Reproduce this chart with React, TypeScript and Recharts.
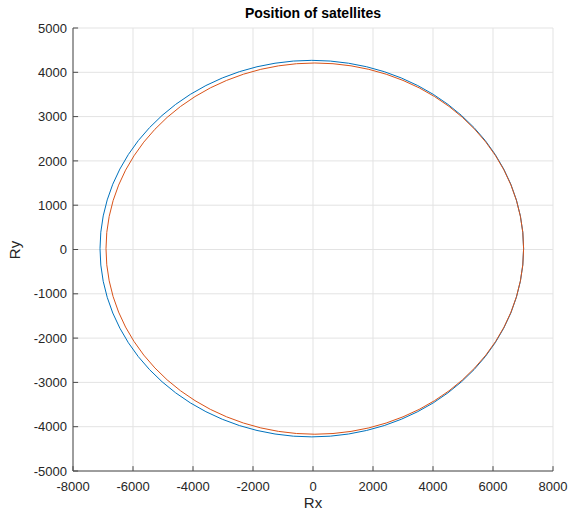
import React from 'react';
import { ScatterChart, Scatter, XAxis, YAxis, CartesianGrid, ReferenceLine } from 'recharts';

// Satellite 1 (blue) orbit points
const sat1X = [7020, 6993, 6913, 6779, 6594, 6358, 6074, 5744, 5368, 4952, 4498, 4010, 3490, 2944, 2375, 1787, 1186, 576, -40,
  -656, -1266, -1867, -2455, -3024, -3570, -4090, -4578, -5032, -5448, -5824, -6154, -6438, -6674, -6859, -6993, -7073, -7100,
  -7073, -6993, -6859, -6674, -6438, -6154, -5824, -5448, -5032, -4578, -4090, -3570, -3024, -2455, -1867, -1266, -656, -40,
  576, 1186, 1787, 2375, 2944, 3490, 4010, 4498, 4952, 5368, 5744, 6074, 6358, 6594, 6779, 6913, 6993, 7020];
const sat1Y = [20, 391, 758, 1120, 1474, 1816, 2145, 2458, 2752, 3025, 3276, 3502, 3701, 3872, 4014, 4125, 4205, 4254, 4270,
  4254, 4205, 4125, 4014, 3872, 3701, 3502, 3276, 3025, 2752, 2458, 2145, 1816, 1474, 1120, 758, 391, 20,
  -351, -718, -1080, -1434, -1776, -2105, -2418, -2712, -2985, -3236, -3462, -3661, -3832, -3974, -4085, -4165, -4214, -4230,
  -4214, -4165, -4085, -3974, -3832, -3661, -3462, -3236, -2985, -2712, -2418, -2105, -1776, -1434, -1080, -718, -351, 20];

// Satellite 2 (orange) orbit points
const sat2X = [7020, 6994, 6914, 6783, 6600, 6368, 6087, 5762, 5391, 4981, 4534, 4052, 3540, 3001, 2440, 1861, 1268, 667, 60,
  -547, -1148, -1741, -2320, -2881, -3420, -3932, -4414, -4861, -5271, -5642, -5967, -6248, -6480, -6663, -6794, -6874, -6900,
  -6874, -6794, -6663, -6480, -6248, -5967, -5642, -5271, -4861, -4414, -3932, -3420, -2881, -2320, -1741, -1148, -547, 60,
  667, 1268, 1861, 2440, 3001, 3540, 4052, 4534, 4981, 5391, 5762, 6087, 6368, 6600, 6783, 6914, 6994, 7020];
const sat2Y = [20, 385, 747, 1104, 1453, 1791, 2115, 2423, 2713, 2983, 3230, 3452, 3649, 3817, 3957, 4067, 4146, 4194, 4210,
  4194, 4146, 4067, 3957, 3817, 3649, 3452, 3230, 2983, 2713, 2423, 2115, 1791, 1453, 1104, 747, 385, 20,
  -345, -707, -1064, -1413, -1751, -2075, -2383, -2673, -2943, -3190, -3412, -3609, -3777, -3917, -4027, -4106, -4154, -4170,
  -4154, -4106, -4027, -3917, -3777, -3609, -3412, -3190, -2943, -2673, -2383, -2075, -1751, -1413, -1064, -707, -345, 20];

const xTicks = [-8000, -6000, -4000, -2000, 0, 2000, 4000, 6000, 8000];
const yTicks = [-5000, -4000, -3000, -2000, -1000, 0, 1000, 2000, 3000, 4000, 5000];

const sat1 = sat1X.map((x, i) => ({ x, y: sat1Y[i] }));
const sat2 = sat2X.map((x, i) => ({ x, y: sat2Y[i] }));

const AXIS = '#4a4a4a';
const TXT = '#262626';
const FONT = '"Liberation Sans", Arial, Helvetica, sans-serif';

const NoDot = () => <g />;

export default function App() {
  return (
    <div style={{ position: 'absolute', left: 0, top: 0, width: 569, height: 515, background: '#fff', fontFamily: FONT }}>
      <ScatterChart width={569} height={515} margin={{ top: 28, right: 16, bottom: 14, left: 13 }}>
        <CartesianGrid stroke="#e3e3e3" strokeWidth={1} />
        <XAxis
          type="number"
          dataKey="x"
          domain={[-8000, 8000]}
          ticks={xTicks}
          height={30}
          stroke={AXIS}
          tickLine={false}
          tickSize={0}
          tickMargin={11}
          tick={{ fill: TXT, fontSize: 13, fontFamily: FONT }}
          allowDataOverflow
        />
        <YAxis
          type="number"
          dataKey="y"
          domain={[-5000, 5000]}
          ticks={yTicks}
          width={60}
          stroke={AXIS}
          tickLine={false}
          tickSize={0}
          tickMargin={6}
          tick={{ fill: TXT, fontSize: 13, fontFamily: FONT }}
          allowDataOverflow
        />
        {xTicks.map((t) => (
          <ReferenceLine key={'xt' + t} segment={[{ x: t, y: -5000 }, { x: t, y: -4890 }]} stroke={AXIS} strokeWidth={1} />
        ))}
        {yTicks.map((t) => (
          <ReferenceLine key={'yt' + t} segment={[{ x: -8000, y: t }, { x: -7830, y: t }]} stroke={AXIS} strokeWidth={1} />
        ))}
        <Scatter data={sat1} line={{ stroke: '#0072BD', strokeWidth: 1 }} lineType="joint" shape={NoDot} fill="#0072BD" isAnimationActive={false} />
        <Scatter data={sat2} line={{ stroke: '#D95319', strokeWidth: 1 }} lineType="joint" shape={NoDot} fill="#D95319" isAnimationActive={false} />
      </ScatterChart>
      <div style={{ position: 'absolute', left: 213, width: 200, top: 5, textAlign: 'center', fontSize: 14, fontWeight: 'bold', color: '#000', lineHeight: '16px' }}>
        Position of satellites
      </div>
      <div style={{ position: 'absolute', left: 263, width: 100, top: 495, textAlign: 'center', fontSize: 15, color: TXT, lineHeight: '16px' }}>
        Rx
      </div>
      <div style={{ position: 'absolute', left: -35, width: 100, top: 242, textAlign: 'center', fontSize: 15, color: TXT, lineHeight: '16px', transform: 'rotate(-90deg)' }}>
        Ry
      </div>
    </div>
  );
}
